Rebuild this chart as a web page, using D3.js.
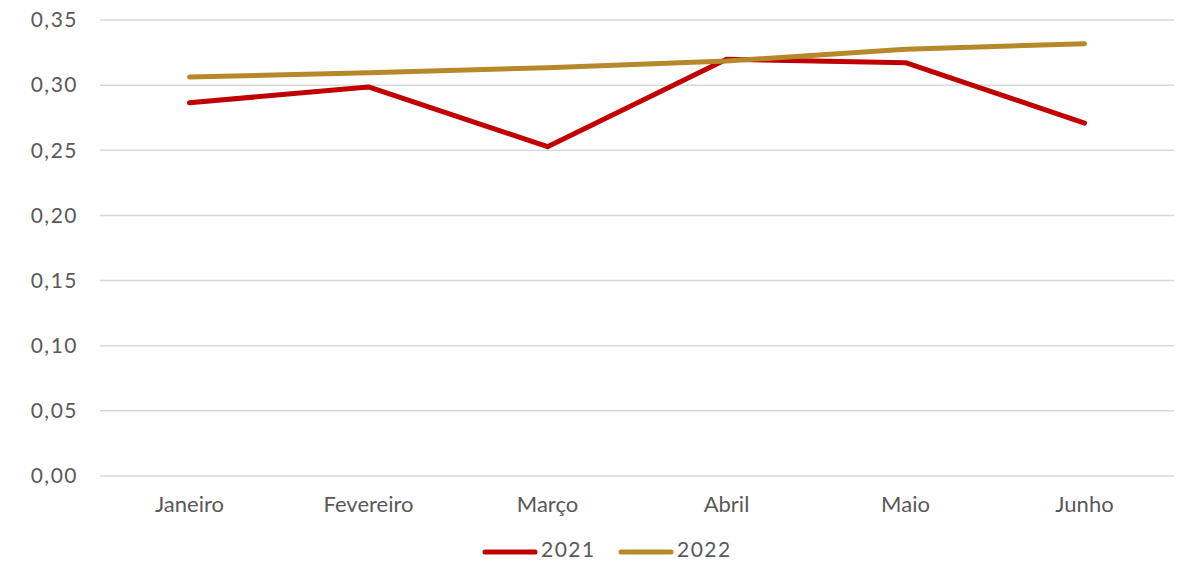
<!DOCTYPE html>
<html><head><meta charset="utf-8">
<script src="https://cdn.jsdelivr.net/npm/d3@7"></script>
<style>body{margin:0;background:#fff}svg{display:block}text{font-family:Lato,"Open Sans",sans-serif;fill:#595959}</style>
</head><body><svg id="c" width="1182" height="566"></svg>
<script>
const categories = ["Janeiro","Fevereiro","Março","Abril","Maio","Junho"];
const series2021 = [0.2865,0.2986,0.2528,0.3198,0.3172,0.2709];
const series2022 = [0.3063,0.3095,0.3134,0.3185,0.3275,0.3318];
const yTicks = [0,0.05,0.10,0.15,0.20,0.25,0.30,0.35];
const seriesNames = ["2021","2022"];
const colors = ["#c00000","#b5892a"];

const svg = d3.select("#c");
const x = d3.scaleBand().domain(categories).range([100,1174]);
const y = d3.scaleLinear().domain([0,0.35]).range([476,20]);
const fmt = v => d3.format(".2f")(v).replace(".", ",");

const grid = svg.append("g");
grid.selectAll("line").data(yTicks).join("line")
  .attr("x1",100).attr("x2",1174)
  .attr("y1",d=>y(d)).attr("y2",d=>y(d))
  .attr("stroke","#d9d9d9").attr("stroke-width",1.5);

const yAxis = svg.append("g").attr("transform","translate(100,0)")
  .call(d3.axisLeft(y).tickValues(yTicks).tickFormat(fmt).tickSize(0).tickPadding(22));
yAxis.select(".domain").remove();
yAxis.selectAll("text").style("font-size","21px").style("letter-spacing","1.5px").attr("fill","#595959");

const xAxis = svg.append("g").attr("transform","translate(0,476)")
  .call(d3.axisBottom(x).tickSize(0).tickPadding(20));
xAxis.select(".domain").remove();
xAxis.selectAll("text").style("font-size","22px").attr("fill","#595959");

const line = d3.line().x((d,i)=>x(categories[i])+x.bandwidth()/2).y(d=>y(d));
[series2021, series2022].forEach((s,k)=>{
  svg.append("path").datum(s).attr("d",line).attr("fill","none")
    .attr("stroke",colors[k]).attr("stroke-width",5).attr("stroke-linecap","round").attr("stroke-linejoin","round");
});

const legX = [485, 621];
seriesNames.forEach((n,k)=>{
  svg.append("line").attr("x1",legX[k]).attr("x2",legX[k]+50).attr("y1",552).attr("y2",552)
    .attr("stroke",colors[k]).attr("stroke-width",5).attr("stroke-linecap","round");
  svg.append("text").attr("x",legX[k]+56).attr("y",550).attr("dy","0.35em").text(n).style("font-size","21px").style("letter-spacing","1.5px");
});
</script></body></html>
